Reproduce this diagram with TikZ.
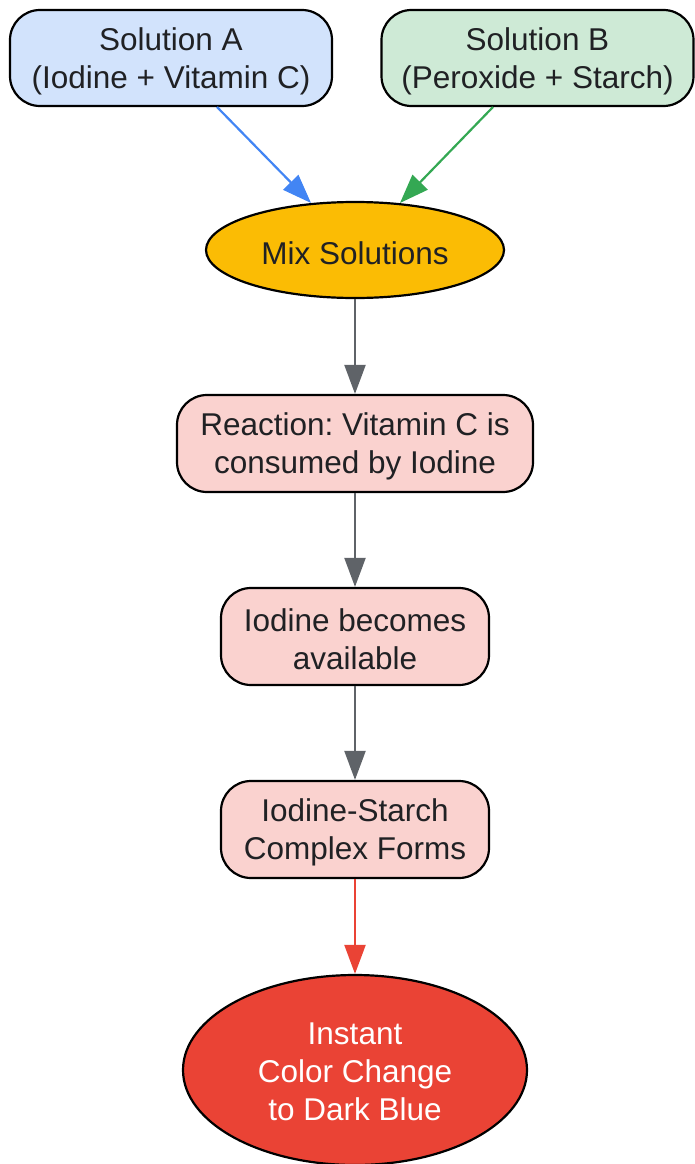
\documentclass[tikz,border=0pt]{standalone}
\usepackage{fontspec}
\setmainfont{Liberation Sans}
\usetikzlibrary{arrows.meta,shapes.geometric}
\frenchspacing
\definecolor{txt}{HTML}{202124}
\definecolor{blueF}{HTML}{D2E3FC}
\definecolor{greenF}{HTML}{CEEAD6}
\definecolor{pinkF}{HTML}{FAD2CF}
\definecolor{yellowF}{HTML}{FBBC04}
\definecolor{redF}{HTML}{EA4335}
\definecolor{blueL}{HTML}{4285F4}
\definecolor{greenL}{HTML}{34A853}
\definecolor{grayL}{HTML}{5F6368}
\tikzset{
  box/.style={draw=black, line width=2.2pt, rounded corners=30pt, inner sep=0pt},
  oval/.style={draw=black, line width=2.2pt, ellipse, inner sep=0pt},
  txt/.style={label={[align=center, text=txt, inner sep=0pt, yshift=-3pt,
    font=\fontsize{31.5}{38}\selectfont]center:#1}},
  wtxt/.style={label={[align=center, text=white, inner sep=0pt, yshift=-2pt,
    font=\fontsize{31.5}{38}\selectfont]center:#1}},
  conn/.style={line width=2.2pt, -{Triangle[length=29pt,width=21pt]}},
}
\begin{document}
\begin{tikzpicture}[x=1pt,y=-1pt]
\useasboundingbox (0,0) rectangle (694,1164);
\node[box, fill=blueF, minimum width=322pt, minimum height=96pt, txt={Solution A\\(Iodine + Vitamin C)}] (a) at (171,58) {};
\node[box, fill=greenF, minimum width=312pt, minimum height=96pt, txt={Solution B\\(Peroxide + Starch)}] (b) at (537.5,58) {};
\node[oval, fill=yellowF, minimum width=298pt, minimum height=96pt, txt={Mix Solutions}] (mix) at (355,250) {};
\node[box, fill=pinkF, minimum width=356pt, minimum height=97pt, txt={Reaction: Vitamin C is\\consumed by Iodine}] (r) at (355,443.5) {};
\node[box, fill=pinkF, minimum width=268pt, minimum height=97pt, txt={Iodine becomes\\available}] (i) at (355,636.5) {};
\node[box, fill=pinkF, minimum width=268pt, minimum height=97pt, txt={Iodine-Starch\\Complex Forms}] (s) at (355,829.5) {};
\node[oval, fill=redF, minimum width=344pt, minimum height=190pt, wtxt={Instant\\Color Change\\to Dark Blue}] (c) at (355,1070) {};
\coordinate (a1) at (217,107);
\coordinate (a2) at (311,203);
\coordinate (b1) at (493,107);
\coordinate (b2) at (400,203);
\draw[conn, draw=blueL, fill=blueL] (a1) -- (a2);
\draw[conn, draw=greenL, fill=greenL] (b1) -- (b2);
\draw[conn, draw=grayL, fill=grayL] (mix.south) -- (r.north);
\draw[conn, draw=grayL, fill=grayL] (r.south) -- (i.north);
\draw[conn, draw=grayL, fill=grayL] (i.south) -- (s.north);
\draw[conn, draw=redF, fill=redF] (s.south) -- (c.north);
\end{tikzpicture}
\end{document}
